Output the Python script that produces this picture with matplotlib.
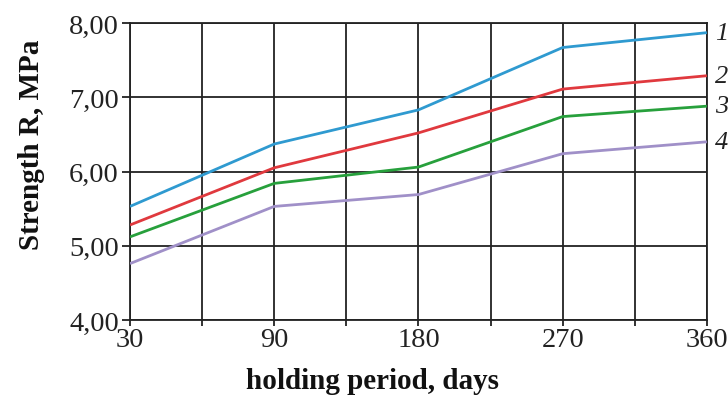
import matplotlib
matplotlib.use("Agg")
import matplotlib.pyplot as plt
import numpy as np

days = ["30", "90", "180", "270", "360"]
series_names = ["1", "2", "3", "4"]
s1 = [5.53, 6.37, 6.83, 7.67, 7.87]
s2 = [5.28, 6.05, 6.52, 7.11, 7.29]
s3 = [5.12, 5.84, 6.06, 6.74, 6.88]
s4 = [4.76, 5.53, 5.69, 6.24, 6.40]
y_ticks = [4.0, 5.0, 6.0, 7.0, 8.0]
y_tick_labels = ["4,00", "5,00", "6,00", "7,00", "8,00"]
colors = ["#2f9ad0", "#e0393e", "#27a03c", "#a090c8"]

plt.rcParams['font.family'] = ['Liberation Serif', 'DejaVu Serif']

fig = plt.figure(figsize=(7.28, 4.14), dpi=100)
ax = fig.add_axes([0.1786, 0.2246, 0.971 - 0.1786, 0.942 - 0.2246])

x = np.arange(len(days))
for vals, c, name in zip([s1, s2, s3, s4], colors, series_names):
    ax.plot(x, vals, color=c, lw=2.0, zorder=3, solid_capstyle='butt')
    ax.annotate(name, xy=(x[-1], vals[-1]), xytext=(6, 0), textcoords='offset points',
                ha='left', va='center', fontsize=19, style='italic', color='#222222',
                annotation_clip=False)

ax.set_xlim(0, len(days) - 1)
ax.set_ylim(4, 8)
ax.set_xticks(x)
ax.set_xticklabels(days)
ax.set_xticks(np.arange(0.5, len(days) - 1, 1.0), minor=True)
ax.set_yticks(y_ticks)
ax.set_yticklabels(y_tick_labels)

ax.grid(True, which='both', axis='x', color='#222222', lw=1.3)
ax.grid(True, which='major', axis='y', color='#222222', lw=1.3)
ax.set_axisbelow(True)
for sp in ax.spines.values():
    sp.set_color('#222222')
    sp.set_linewidth(1.3)

ax.tick_params(axis='y', which='major', length=6, width=1.3, color='#222222',
               labelsize=20.5, pad=2, labelcolor='#222222')
ax.tick_params(axis='x', which='both', length=4, width=1.3, color='#222222',
               labelsize=20.5, pad=1, labelcolor='#222222')

ax.set_ylabel("Strength R, MPa", fontsize=21, fontweight='bold', color='#111111')
ax.set_xlabel("holding period, days", fontsize=21, fontweight='bold', color='#111111')
ax.yaxis.set_label_coords(-0.147, 0.593)
ax.xaxis.set_label_coords(0.42, -0.158)

fig.savefig("out.png", dpi=100)
